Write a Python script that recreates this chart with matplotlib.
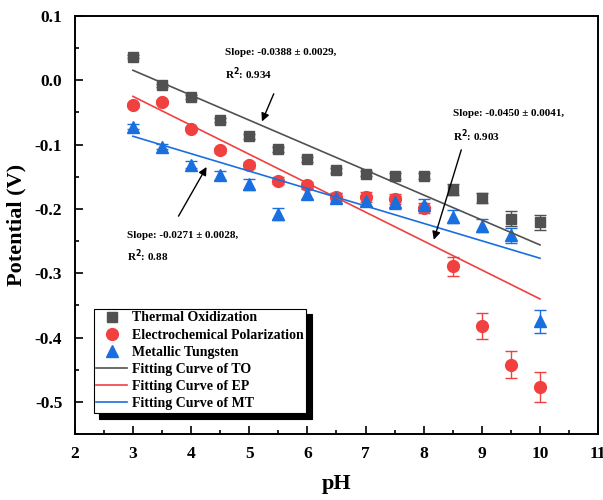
import matplotlib
matplotlib.use("Agg")
from matplotlib import pyplot as plt
from matplotlib.ticker import MultipleLocator
import numpy as np

plt.rcParams['font.family'] = ['Liberation Serif', 'DejaVu Serif']
plt.rcParams['font.weight'] = 'bold'

# pH 值
ph = [3, 3.5, 4, 4.5, 5, 5.5, 6, 6.5, 7, 7.5, 8, 8.5, 9, 9.5, 10]

# 三种电极的电位 (V) 及误差
to_pot = [0.037, -0.008, -0.026, -0.062, -0.087, -0.107, -0.123, -0.140,
          -0.145, -0.149, -0.149, -0.170, -0.183, -0.215, -0.221]
to_err = [0.003, 0.003, 0.003, 0.003, 0.004, 0.004, 0.004, 0.004,
          0.004, 0.005, 0.005, 0.008, 0.008, 0.012, 0.012]
ep_pot = [-0.039, -0.034, -0.075, -0.109, -0.132, -0.156, -0.163, -0.182,
          -0.182, -0.185, -0.199, -0.289, -0.382, -0.442, -0.477]
ep_err = [0.003, 0.003, 0.003, 0.004, 0.005, 0.005, 0.005, 0.006,
          0.008, 0.008, 0.008, 0.015, 0.02, 0.021, 0.024]
mt_pot = [-0.072, -0.103, -0.131, -0.148, -0.162, -0.208, -0.177, -0.183,
          -0.188, -0.190, -0.194, -0.212, -0.226, -0.241, -0.375]
mt_err = [0.004, 0.004, 0.005, 0.007, 0.008, 0.009, 0.008, 0.008,
          0.008, 0.010, 0.010, 0.010, 0.010, 0.012, 0.018]

# 线性拟合参数
to_slope, to_icpt = -0.0388, 0.132
ep_slope, ep_icpt = -0.0450, 0.110
mt_slope, mt_icpt = -0.0271, -0.0057

c_to = '#515151'
c_ep = '#F14040'
c_mt = '#1A6FDF'

fig = plt.figure(figsize=(6.03, 5.0), dpi=100)
ax = fig.add_axes([0.124, 0.132, 0.868, 0.836])

x = np.array(ph)
# 误差棒
for pot, err, c in [(to_pot, to_err, c_to), (ep_pot, ep_err, c_ep), (mt_pot, mt_err, c_mt)]:
    ax.errorbar(ph, pot, yerr=err, fmt='none', ecolor=c, capsize=4, elinewidth=1, capthick=1)

h1, = ax.plot(ph, to_pot, 's', color=c_to, ms=7.5, label='Thermal Oxidization')
h2, = ax.plot(ph, ep_pot, 'o', color=c_ep, ms=8.5, label='Electrochemical Polarization')
h3, = ax.plot(ph, mt_pot, '^', color=c_mt, ms=8.5, label='Metallic Tungsten')
h4, = ax.plot(x, to_slope * x + to_icpt, color=c_to, lw=1.2, label='Fitting Curve of TO')
h5, = ax.plot(x, ep_slope * x + ep_icpt, color=c_ep, lw=1.2, label='Fitting Curve of EP')
h6, = ax.plot(x, mt_slope * x + mt_icpt, color=c_mt, lw=1.2, label='Fitting Curve of MT')

# 斜率标注
fs = 8
ax.text(4.58, 0.040, 'Slope: -0.0388 ± 0.0029,', fontsize=fs, fontweight='bold')
ax.text(4.58, 0.003, 'R$^\\mathbf{2}$: 0.934', fontsize=fs, fontweight='bold')
ax.annotate('', xy=(5.2, -0.068), xytext=(5.44, -0.017),
            arrowprops=dict(arrowstyle='-|>', color='black', lw=1, mutation_scale=12))

ax.text(8.5, -0.056, 'Slope: -0.0450 ± 0.0041,', fontsize=fs, fontweight='bold')
ax.text(8.5, -0.093, 'R$^\\mathbf{2}$: 0.903', fontsize=fs, fontweight='bold')
ax.annotate('', xy=(8.16, -0.252), xytext=(8.66, -0.104),
            arrowprops=dict(arrowstyle='-|>', color='black', lw=1, mutation_scale=12))

ax.text(2.9, -0.245, 'Slope: -0.0271 ± 0.0028,', fontsize=fs, fontweight='bold')
ax.text(2.9, -0.280, 'R$^\\mathbf{2}$: 0.88', fontsize=fs, fontweight='bold')
ax.annotate('', xy=(4.29, -0.131), xytext=(3.76, -0.215),
            arrowprops=dict(arrowstyle='-|>', color='black', lw=1, mutation_scale=12))

ax.set_xlim(2, 11)
ax.set_ylim(-0.55, 0.1)
ax.xaxis.set_major_locator(MultipleLocator(1))
ax.xaxis.set_minor_locator(MultipleLocator(0.5))
ax.yaxis.set_major_locator(MultipleLocator(0.1))
ax.yaxis.set_minor_locator(MultipleLocator(0.05))
ax.yaxis.set_major_formatter(matplotlib.ticker.FormatStrFormatter('%.1f'))
ax.tick_params(which='both', direction='in', top=False, right=False, labelsize=12.5, width=1.2)
ax.tick_params(which='major', length=6, pad=9)
ax.tick_params(which='minor', length=3)
for s in ax.spines.values():
    s.set_linewidth(1.4)

ax.set_xlabel('pH', fontsize=16, fontweight='bold', labelpad=8)
ax.set_ylabel('Potential (V)', fontsize=16, fontweight='bold', labelpad=6)

leg = ax.legend(handles=[h1, h2, h3, h4, h5, h6], loc='lower left',
                bbox_to_anchor=(0.036, 0.05), fontsize=10,
                frameon=True, fancybox=False, edgecolor='black', framealpha=1,
                shadow={'color': 'black', 'alpha': 1, 'ox': 4, 'oy': -4},
                borderpad=0.2, labelspacing=0.3, handlelength=2.2, handletextpad=0.35,
                borderaxespad=0)
leg.get_frame().set_linewidth(0.8)
for t in leg.get_texts():
    t.set_fontweight('bold')

fig.savefig('out.png', dpi=100)
